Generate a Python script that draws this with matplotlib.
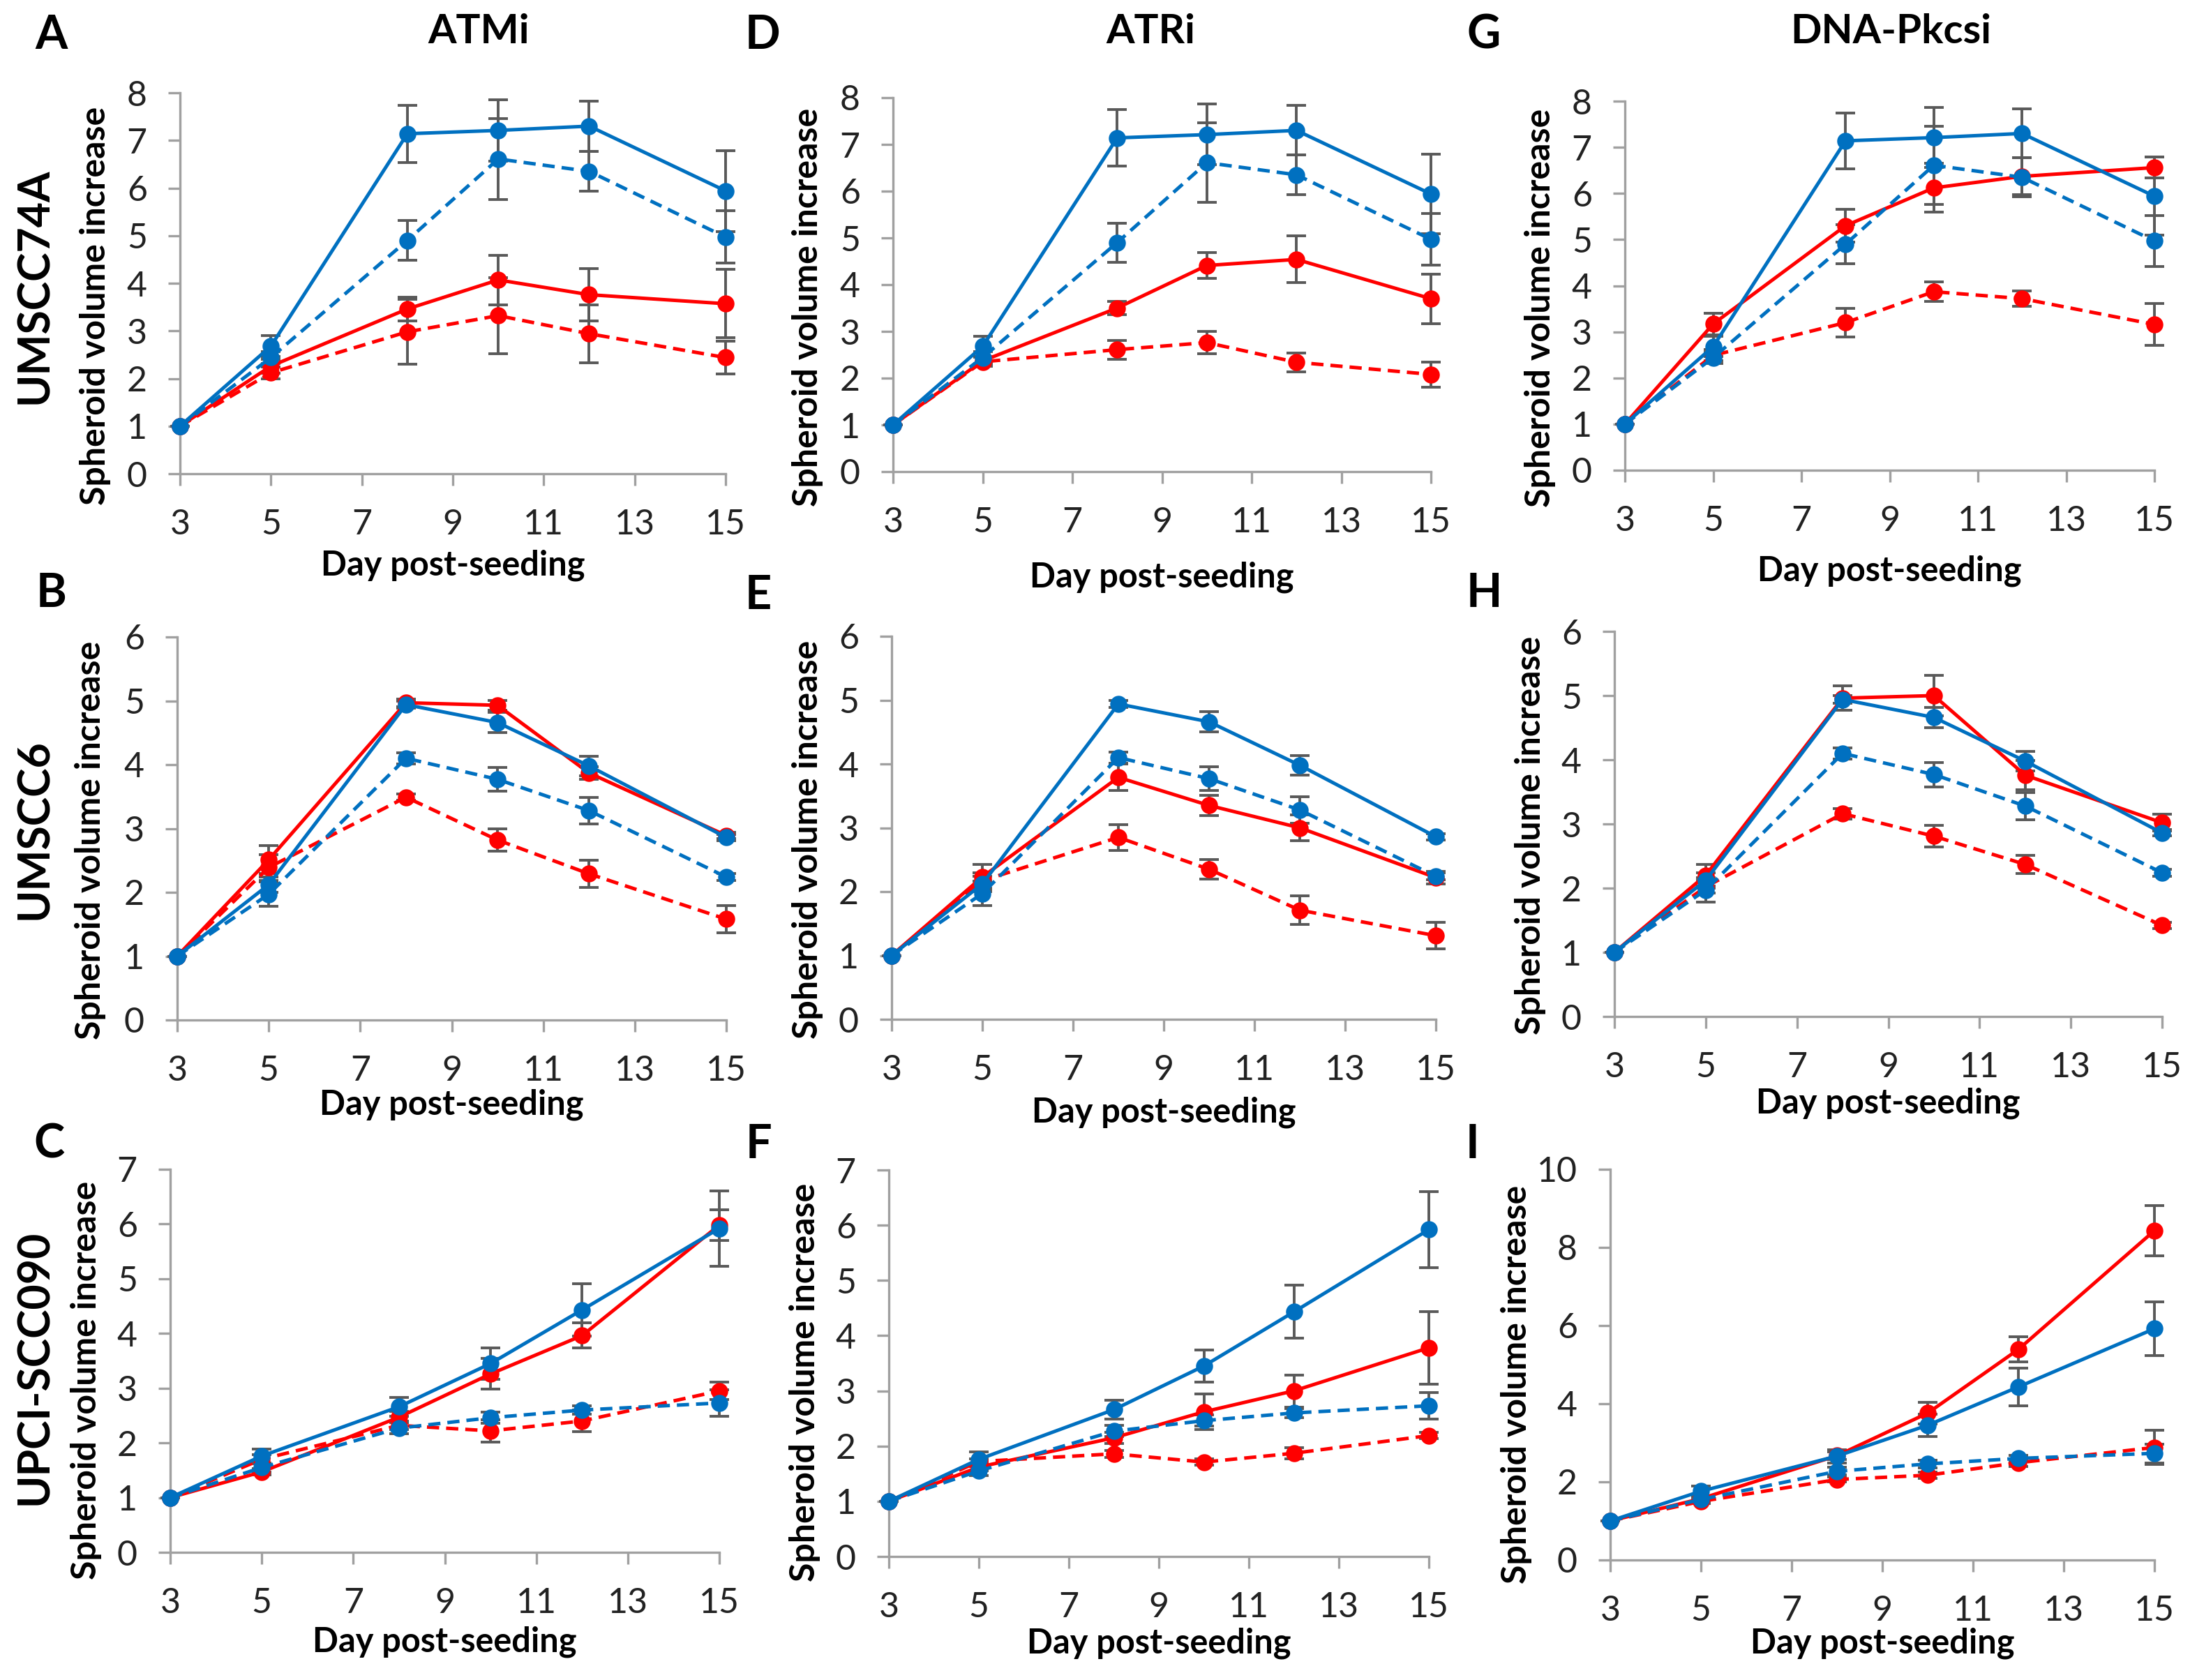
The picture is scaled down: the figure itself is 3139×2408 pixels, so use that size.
import matplotlib
matplotlib.use("Agg")
import matplotlib.pyplot as plt

plt.rcParams['font.family'] = ['Lato', 'DejaVu Sans']

days = [3, 5, 8, 10, 12, 15]
x_ticks = [3, 5, 7, 9, 11, 13, 15]

cell_lines = ["UMSCC74A", "UMSCC6", "UPCI-SCC090"]
drugs = ["ATMi", "ATRi", "DNA-Pkcsi"]
panel_letters = [["A", "D", "G"], ["B", "E", "H"], ["C", "F", "I"]]
y_max = [[8, 8, 8], [6, 6, 6], [7, 7, 10]]
y_step = [[1, 1, 1], [1, 1, 1], [1, 1, 2]]

# blue curves (same in every drug column of a row)
blue_solid = {
    "UMSCC74A": [1, 2.68, 7.14, 7.21, 7.30, 5.94],
    "UMSCC6": [1, 2.12, 4.94, 4.66, 3.98, 2.86],
    "UPCI-SCC090": [1, 1.76, 2.66, 3.45, 4.43, 5.92],
}
blue_solid_err = {
    "UMSCC74A": [0, 0.22, 0.60, 0.65, 0.53, 0.85],
    "UMSCC6": [0, 0.12, 0.06, 0.16, 0.15, 0.05],
    "UPCI-SCC090": [0, 0.13, 0.17, 0.29, 0.48, 0.69],
}
blue_dashed = {
    "UMSCC74A": [1, 2.44, 4.90, 6.61, 6.35, 4.97],
    "UMSCC6": [1, 1.97, 4.10, 3.77, 3.28, 2.24],
    "UPCI-SCC090": [1, 1.55, 2.27, 2.46, 2.60, 2.73],
}
blue_dashed_err = {
    "UMSCC74A": [0, 0.12, 0.42, 0.85, 0.42, 0.55],
    "UMSCC6": [0, 0.19, 0.09, 0.19, 0.21, 0.05],
    "UPCI-SCC090": [0, 0.08, 0.10, 0.10, 0.08, 0.24],
}

# red curves, one per (cell line, drug)
red_solid = {
    ("UMSCC74A", "ATMi"): [1, 2.26, 3.46, 4.07, 3.76, 3.57],
    ("UMSCC74A", "ATRi"): [1, 2.37, 3.50, 4.41, 4.54, 3.70],
    ("UMSCC74A", "DNA-Pkcsi"): [1, 3.17, 5.30, 6.12, 6.37, 6.56],
    ("UMSCC6", "ATMi"): [1, 2.51, 4.97, 4.93, 3.87, 2.89],
    ("UMSCC6", "ATRi"): [1, 2.23, 3.79, 3.35, 3.00, 2.22],
    ("UMSCC6", "DNA-Pkcsi"): [1, 2.20, 4.96, 5.00, 3.76, 3.02],
    ("UPCI-SCC090", "ATMi"): [1, 1.47, 2.47, 3.26, 3.96, 5.98],
    ("UPCI-SCC090", "ATRi"): [1, 1.62, 2.15, 2.62, 3.00, 3.78],
    ("UPCI-SCC090", "DNA-Pkcsi"): [1, 1.57, 2.67, 3.76, 5.39, 8.43],
}
red_solid_err = {
    ("UMSCC74A", "ATMi"): [0, 0.15, 0.25, 0.52, 0.55, 0.72],
    ("UMSCC74A", "ATRi"): [0, 0.10, 0.14, 0.28, 0.50, 0.53],
    ("UMSCC74A", "DNA-Pkcsi"): [0, 0.23, 0.36, 0.53, 0.40, 0.23],
    ("UMSCC6", "ATMi"): [0, 0.22, 0.06, 0.08, 0.10, 0.05],
    ("UMSCC6", "ATRi"): [0, 0.20, 0.21, 0.16, 0.20, 0.10],
    ("UMSCC6", "DNA-Pkcsi"): [0, 0.17, 0.19, 0.31, 0.23, 0.13],
    ("UPCI-SCC090", "ATMi"): [0, 0.06, 0.10, 0.28, 0.23, 0.28],
    ("UPCI-SCC090", "ATRi"): [0, 0.06, 0.10, 0.32, 0.29, 0.66],
    ("UPCI-SCC090", "DNA-Pkcsi"): [0, 0.06, 0.10, 0.28, 0.32, 0.65],
}
red_dashed = {
    ("UMSCC74A", "ATMi"): [1, 2.12, 2.98, 3.32, 2.94, 2.44],
    ("UMSCC74A", "ATRi"): [1, 2.35, 2.61, 2.76, 2.34, 2.08],
    ("UMSCC74A", "DNA-Pkcsi"): [1, 2.49, 3.20, 3.87, 3.72, 3.16],
    ("UMSCC6", "ATMi"): [1, 2.39, 3.49, 2.82, 2.29, 1.58],
    ("UMSCC6", "ATRi"): [1, 2.17, 2.85, 2.35, 1.71, 1.31],
    ("UMSCC6", "DNA-Pkcsi"): [1, 2.02, 3.16, 2.81, 2.37, 1.42],
    ("UPCI-SCC090", "ATMi"): [1, 1.70, 2.32, 2.22, 2.40, 2.95],
    ("UPCI-SCC090", "ATRi"): [1, 1.72, 1.86, 1.71, 1.87, 2.19],
    ("UPCI-SCC090", "DNA-Pkcsi"): [1, 1.50, 2.06, 2.17, 2.49, 2.88],
}
red_dashed_err = {
    ("UMSCC74A", "ATMi"): [0, 0.12, 0.68, 0.80, 0.61, 0.35],
    ("UMSCC74A", "ATRi"): [0, 0.10, 0.20, 0.24, 0.20, 0.27],
    ("UMSCC74A", "DNA-Pkcsi"): [0, 0.12, 0.31, 0.21, 0.16, 0.45],
    ("UMSCC6", "ATMi"): [0, 0.20, 0.05, 0.18, 0.21, 0.21],
    ("UMSCC6", "ATRi"): [0, 0.12, 0.20, 0.15, 0.22, 0.21],
    ("UMSCC6", "DNA-Pkcsi"): [0, 0.10, 0.08, 0.17, 0.14, 0.05],
    ("UPCI-SCC090", "ATMi"): [0, 0.08, 0.08, 0.20, 0.20, 0.16],
    ("UPCI-SCC090", "ATRi"): [0, 0.05, 0.06, 0.06, 0.10, 0.06],
    ("UPCI-SCC090", "DNA-Pkcsi"): [0, 0.05, 0.06, 0.08, 0.10, 0.44],
}

# layout in output pixels: left, right, top, bottom of plot area,
# xlabel offset below axis, ylabel offset left of axis
W, H = 3139, 2408
layout = [
    [(258, 1040, 133, 679, 131, 121), (1280, 2051, 140, 676, 151, 123), (2329, 3088, 145, 674, 144, 122)],
    [(254, 1041, 913, 1462, 121, 124), (1278, 2058, 912, 1461, 133, 121), (2314, 3099, 905, 1457, 124, 120)],
    [(244, 1031, 1676, 2225, 128, 120), (1274, 2048, 1677, 2231, 124, 120), (2308, 3088, 1676, 2236, 119, 134)],
]
ylabel_frac = [0.44, 0.47, 0.45]
letter_pos = [[(74, 51), (1093, 51), (2127, 51)],
              [(74, 851), (1087, 854), (2127, 851)],
              [(70, 1641), (1087, 1641), (2110, 1641)]]
title_pos = [(686, 46), (1649, 46), (2710, 46)]
rowlabel_pos = [(50, 410), (50, 1189), (50, 1960)]

BLUE = '#0070C0'
RED = '#FF0000'
AXIS = '#A0A0A0'
ERR = '#595959'
dash = (0, (3.5, 2))

fig = plt.figure(figsize=(W / 200, H / 200), dpi=200)


def draw(ax, y, err, color, ls):
    ax.errorbar(days, y, yerr=err, fmt='none', ecolor=ERR, elinewidth=1.4,
                capsize=5, capthick=1.4, zorder=2, clip_on=False)
    ax.plot(days, y, color=color, linestyle=ls, linewidth=1.8, marker='o',
            markersize=7.8, zorder=3, clip_on=False)


for i, line in enumerate(cell_lines):
    for j, drug in enumerate(drugs):
        l, r, t, b, xl_off, yl_off = layout[i][j]
        ax = fig.add_axes([l / W, 1 - b / H, (r - l) / W, (b - t) / H])

        draw(ax, red_dashed[(line, drug)], red_dashed_err[(line, drug)], RED, dash)
        draw(ax, red_solid[(line, drug)], red_solid_err[(line, drug)], RED, '-')
        draw(ax, blue_dashed[line], blue_dashed_err[line], BLUE, dash)
        draw(ax, blue_solid[line], blue_solid_err[line], BLUE, '-')

        ax.set_xlim(3, 15)
        ax.set_ylim(0, y_max[i][j])
        ax.set_xticks(x_ticks)
        ax.set_yticks(range(0, y_max[i][j] + 1, y_step[i][j]))
        for s in ['top', 'right']:
            ax.spines[s].set_visible(False)
        for s in ['left', 'bottom']:
            ax.spines[s].set_color(AXIS)
            ax.spines[s].set_linewidth(1.2)
        ax.tick_params(axis='both', direction='out', length=6, width=1.2,
                       color=AXIS, labelsize=18, labelcolor='#222222')
        ax.tick_params(axis='x', pad=12)
        ax.tick_params(axis='y', pad=11)

        ax.set_xlabel("Day post-seeding", fontsize=17.5, fontweight='bold', va='center')
        ax.xaxis.set_label_coords(0.5, -xl_off / (b - t))
        ax.set_ylabel("Spheroid volume increase", fontsize=18, fontweight='bold', va='center')
        ax.yaxis.set_label_coords(-yl_off / (r - l), ylabel_frac[i])

        lx, ly = letter_pos[i][j]
        fig.text(lx / W, 1 - ly / H, panel_letters[i][j], fontsize=24,
                 fontweight='bold', ha='center', va='center')

    rx, ry = rowlabel_pos[i]
    fig.text(rx / W, 1 - ry / H, line, fontsize=22.5, fontweight='bold',
             rotation=90, ha='center', va='center')

for j, drug in enumerate(drugs):
    tx, ty = title_pos[j]
    fig.text(tx / W, 1 - ty / H, drug, fontsize=21, fontweight='bold',
             ha='center', va='center')

fig.savefig("out.png", dpi=200)
